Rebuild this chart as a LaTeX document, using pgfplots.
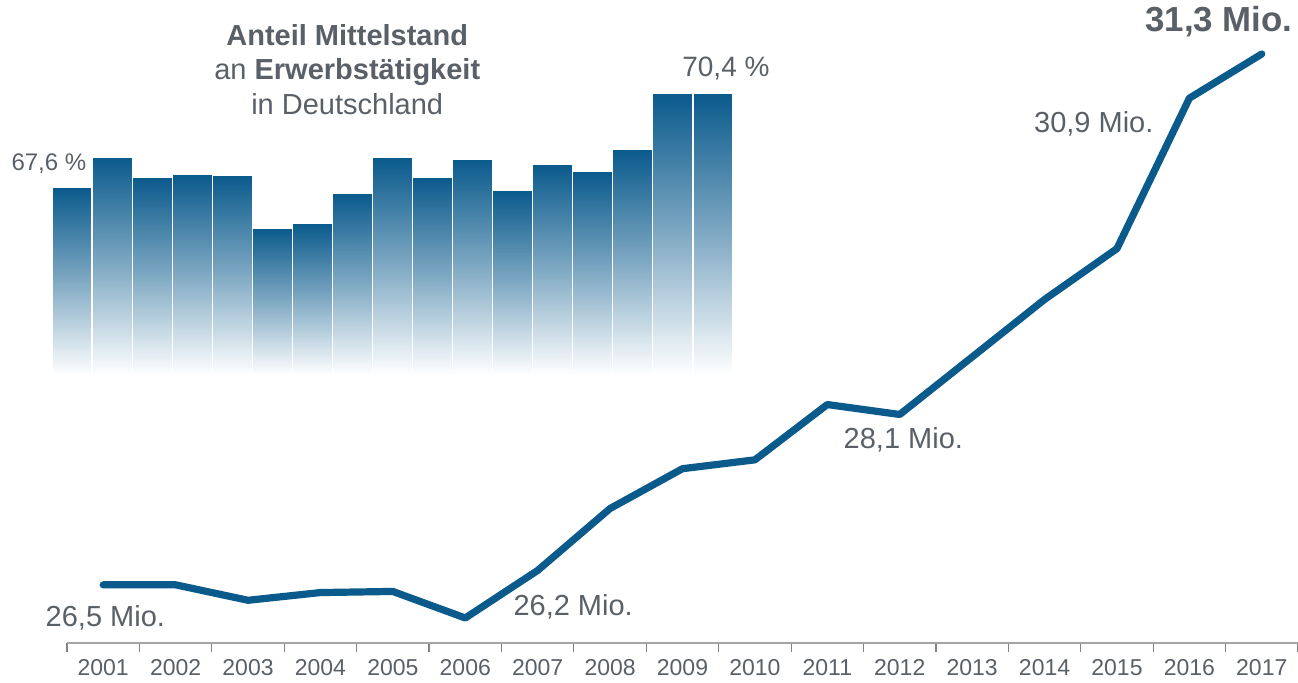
\documentclass[border=0pt]{standalone}
\usepackage{fontspec}
\setmainfont{Liberation Sans}
\usepackage{pgfplots}
\usepackage{pgfplotstable}
\pgfplotsset{compat=1.18}
\definecolor{linec}{RGB}{10,90,140}
\definecolor{txt}{RGB}{90,96,103}
\definecolor{axc}{RGB}{165,165,165}

\pgfplotstableread{
year mio
2001 26.50
2002 26.50
2003 26.36
2004 26.43
2005 26.44
2006 26.20
2007 26.63
2008 27.19
2009 27.55
2010 27.63
2011 28.13
2012 28.04
2013 28.56
2014 29.08
2015 29.54
2016 30.90
2017 31.30
}\linedata

\pgfplotstableread{
year share
2001 67.60
2002 68.51
2003 67.90
2004 68.00
2005 67.97
2006 66.39
2007 66.52
2008 67.42
2009 68.49
2010 67.90
2011 68.45
2012 67.51
2013 68.29
2014 68.09
2015 68.73
2016 70.40
2017 70.40
}\bardata

\begin{document}
\begin{tikzpicture}
\useasboundingbox (-33.5pt,-20pt) rectangle (615.5pt,321.5pt);
% inset bar chart
\begin{axis}[at={(-7.5pt,134pt)}, anchor=south west, scale only axis,
  width=340.5pt, height=187.5pt, hide axis,
  xmin=0.5, xmax=17.5, ymin=0, ymax=11.2, clip=false]
\pgfplotsinvokeforeach{0,...,16}{
\addplot[ybar, bar width=1, bar shift=0pt, draw=white, line width=0.6pt,
  top color=linec, bottom color=white, middle color=linec!52!white,
  restrict expr to domain={\coordindex}{#1:#1}]
  table[x expr=\thisrow{year}-2000, y expr=\thisrow{share}-62]{\bardata};
}
\end{axis}
% main line chart
\begin{axis}[scale only axis, width=615.5pt, height=321.5pt,
  xmin=2000.5, xmax=2017.5, ymin=25.974, ymax=31.788,
  axis x line=bottom, axis y line=none,
  x axis line style={-, draw=axc, line width=1pt},
  xtick={2001,2002,2003,2004,2005,2006,2007,2008,2009,2010,2011,2012,2013,2014,2015,2016,2017},
  xticklabels={2001,2002,2003,2004,2005,2006,2007,2008,2009,2010,2011,2012,2013,2014,2015,2016,2017},
  major tick length=0pt,
  minor xtick={2000.5,2001.5,2002.5,2003.5,2004.5,2005.5,2006.5,2007.5,2008.5,2009.5,2010.5,2011.5,2012.5,2013.5,2014.5,2015.5,2016.5,2017.5},
  minor tick length=4.5pt, tick align=outside,
  minor tick style={draw=gray, line width=0.6pt},
  xticklabel style={font=\fontsize{11.5}{13}\selectfont, text=txt, yshift=-4.5pt},
  clip=false]
\addplot[linec, line width=3.6pt, line cap=round, line join=round]
  table[x=year, y=mio]{\linedata};
\node[txt, font=\fontsize{14.5}{16}\selectfont] at (axis cs:2001.03,26.20) {26,5 Mio.};
\node[txt, font=\fontsize{14.5}{16}\selectfont] at (axis cs:2007.49,26.30) {26,2 Mio.};
\node[txt, font=\fontsize{14.5}{16}\selectfont] at (axis cs:2012.05,27.81) {28,1 Mio.};
\node[txt, font=\fontsize{14.5}{16}\selectfont] at (axis cs:2014.68,30.67) {30,9 Mio.};
\node[txt, font=\fontsize{17.4}{19}\selectfont\bfseries] at (axis cs:2016.41,31.59) {31,3 Mio.};
\node[txt, font=\fontsize{14.5}{16}\selectfont\bfseries] at (axis cs:2004.37,31.47) {Anteil Mittelstand};
\node[txt, font=\fontsize{14.5}{16}\selectfont] at (axis cs:2004.37,31.14) {an \textbf{Erwerbstätigkeit}};
\node[txt, font=\fontsize{14.5}{16}\selectfont] at (axis cs:2004.37,30.85) {in Deutschland};
\node[txt, font=\fontsize{12}{14}\selectfont] at (axis cs:2000.25,30.31) {67,6 \%};
\node[txt, font=\fontsize{14}{16}\selectfont] at (axis cs:2009.60,31.17) {70,4 \%};
\end{axis}
\end{tikzpicture}
\end{document}
